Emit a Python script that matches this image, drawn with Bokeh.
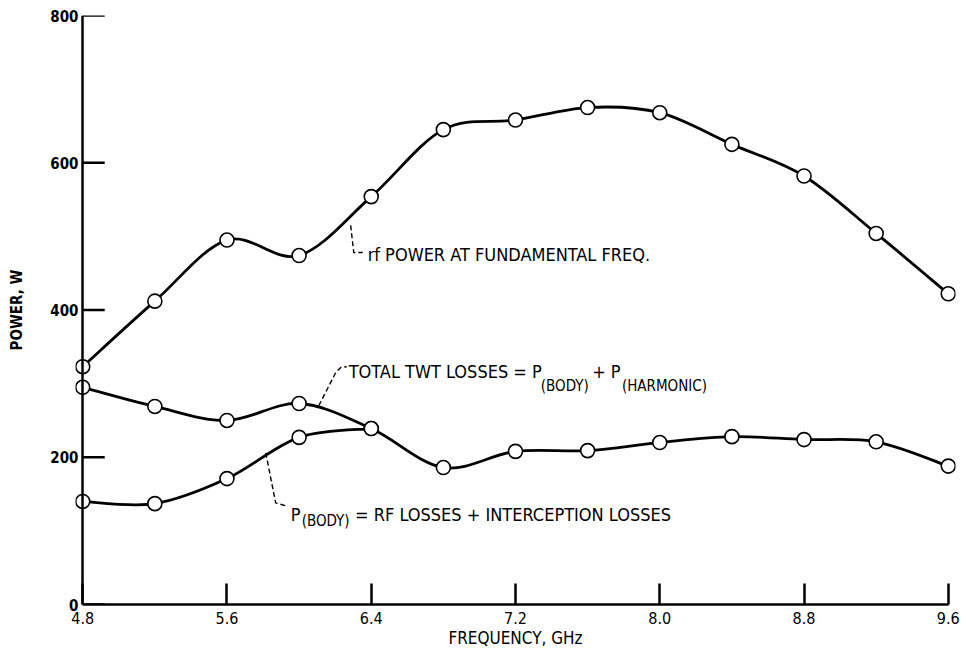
from bokeh.plotting import figure
from bokeh.models import FixedTicker, Range1d, LinearAxis
from bokeh.core.properties import value
from bokeh.embed import file_html
from bokeh.resources import INLINE

# ---- data ----
freq = [4.8, 5.2, 5.6, 6.0, 6.4, 6.8, 7.2, 7.6, 8.0, 8.4, 8.8, 9.2, 9.6]
rf_power = [323, 412, 495, 474, 554, 645, 658, 675, 668, 625, 582, 504, 422]
total_losses = [295, 269, 250, 273, 239, 186, 208, 209, 220, 228, 224, 221, 188]
body_freq = [4.8, 5.2, 5.6, 6.0, 6.4]
body_losses = [140, 137, 171, 227, 239]

x_ticks = [4.8, 5.6, 6.4, 7.2, 8.0, 8.8, 9.6]
x_tick_labels = ["4.8", "5.6", "6.4", "7.2", "8.0", "8.8", "9.6"]
y_ticks = [0, 200, 400, 600, 800]
y_tick_labels = ["0", "200", "400", "600", "800"]

FONT = "DejaVu Sans Condensed"
X0, X1 = 4.76, 9.64
FRAME_W = 880

p = figure(frame_width=FRAME_W, frame_height=589,
           x_range=Range1d(X0, X1), y_range=Range1d(0, 800),
           output_backend="svg", toolbar_location=None,
           min_border_left=75, min_border_right=12, min_border_top=15,
           min_border_bottom=48)
p.outline_line_color = None
p.xgrid.visible = False
p.ygrid.visible = False
p.background_fill_color = "white"
p.border_fill_color = "white"

# y axis: labels on the default axis at the frame edge
p.yaxis.ticker = FixedTicker(ticks=y_ticks)
p.yaxis.major_label_overrides = dict(zip(y_ticks, y_tick_labels))
p.yaxis.axis_line_color = None
p.yaxis.major_tick_line_color = None
p.yaxis.minor_tick_line_color = None
p.yaxis.major_tick_in = 0
p.yaxis.major_tick_out = 0
p.yaxis.major_label_standoff = -3
p.yaxis.major_label_text_font = FONT
p.yaxis.major_label_text_font_style = "bold"
p.yaxis.major_label_text_font_size = "15px"
p.yaxis.major_label_text_color = "black"
p.yaxis.axis_label = "POWER, W"
p.yaxis.axis_label_text_font = FONT
p.yaxis.axis_label_text_font_style = "bold"
p.yaxis.axis_label_text_font_size = "15px"
p.yaxis.axis_label_text_color = "black"
p.yaxis.axis_label_standoff = 21

# y axis line at x = 4.8
y_line_axis = LinearAxis(fixed_location=4.8, ticker=FixedTicker(ticks=y_ticks),
                         major_tick_in=0, major_tick_out=0,
                         major_tick_line_color=None,
                         axis_line_width=2.5, axis_line_color="black",
                         minor_tick_line_color=None,
                         major_label_text_font_size="0px",
                         major_label_text_color=None)
p.add_layout(y_line_axis, "left")

# inward y ticks (22 px long) at the y tick values
tick_len = 22 * (X1 - X0) / FRAME_W
p.segment(x0=[4.8] * len(y_ticks), y0=y_ticks,
          x1=[4.8 + tick_len] * len(y_ticks), y1=y_ticks,
          line_color="black", line_width=2.5)

p.xaxis.bounds = (4.8, 9.6)
p.xaxis.ticker = FixedTicker(ticks=x_ticks)
p.xaxis.major_label_overrides = dict(zip(x_ticks, x_tick_labels))
p.xaxis.minor_tick_line_color = None
p.xaxis.major_tick_in = 21
p.xaxis.major_tick_out = 0
p.xaxis.major_tick_line_width = 2.5
p.xaxis.major_tick_line_color = "black"
p.xaxis.axis_line_width = 2.5
p.xaxis.axis_line_color = "black"
p.xaxis.major_label_standoff = 7
p.xaxis.major_label_text_font = FONT
p.xaxis.major_label_text_font_size = "16px"
p.xaxis.major_label_text_color = "black"
p.xaxis.axis_label = "FREQUENCY, GHz"
p.xaxis.axis_label_text_font = FONT
p.xaxis.axis_label_text_font_style = "normal"
p.xaxis.axis_label_text_font_size = "17px"
p.xaxis.axis_label_text_color = "black"
p.xaxis.axis_label_standoff = 1


def smooth_segments(xs, ys):
    """Catmull-Rom tangents turned into cubic Bezier control points."""
    n = len(xs)
    out = {k: [] for k in ("x0", "y0", "x1", "y1", "cx0", "cy0", "cx1", "cy1")}
    for i in range(n - 1):
        xa, ya = (xs[i - 1], ys[i - 1]) if i > 0 else (xs[i], ys[i])
        xb, yb = (xs[i + 2], ys[i + 2]) if i + 2 < n else (xs[i + 1], ys[i + 1])
        out["x0"].append(xs[i]); out["y0"].append(ys[i])
        out["x1"].append(xs[i + 1]); out["y1"].append(ys[i + 1])
        out["cx0"].append(xs[i] + (xs[i + 1] - xa) / 6)
        out["cy0"].append(ys[i] + (ys[i + 1] - ya) / 6)
        out["cx1"].append(xs[i + 1] - (xb - xs[i]) / 6)
        out["cy1"].append(ys[i + 1] - (yb - ys[i]) / 6)
    return out


for xs, ys in ((freq, rf_power), (freq, total_losses), (body_freq, body_losses)):
    p.bezier(**smooth_segments(xs, ys), line_color="black", line_width=2.8)

for xs, ys in ((freq, rf_power), (freq, total_losses), (body_freq, body_losses)):
    p.scatter(xs, ys, marker="circle", size=14, fill_color="white",
              line_color="black", line_width=1.6)

# leader lines (dashed)
leader_rf_x = [6.286, 6.303, 6.353]
leader_rf_y = [515, 478, 478]
leader_tot_x = [6.109, 6.203, 6.231, 6.264]
leader_tot_y = [270, 315, 322, 323]
leader_body_x = [5.815, 5.870, 5.926]
leader_body_y = [206, 138, 134]
for lx, ly in ((leader_rf_x, leader_rf_y), (leader_tot_x, leader_tot_y),
               (leader_body_x, leader_body_y)):
    p.line(lx, ly, line_color="black", line_width=1.4, line_dash="5 3")

# annotation texts
main_size = "18px"
sub_size = "15px"


def txt(x, y, s, size):
    p.text(x=[x], y=[y], text=[s], text_font=value(FONT), text_font_size=size,
           text_baseline="alphabetic", text_align="left", text_color="black")


txt(6.380, 475, "rf POWER AT FUNDAMENTAL FREQ.", main_size)
txt(6.275, 317, "TOTAL TWT LOSSES = P", main_size)
txt(7.340, 297, "(BODY)", sub_size)
txt(7.625, 317, "+ P", main_size)
txt(7.790, 297, "(HARMONIC)", sub_size)
txt(5.953, 122, "P", main_size)
txt(6.014, 114, "(BODY)", sub_size)
txt(6.310, 122, "= RF LOSSES + INTERCEPTION LOSSES", main_size)

open("out.html", "w").write(file_html(p, INLINE))
